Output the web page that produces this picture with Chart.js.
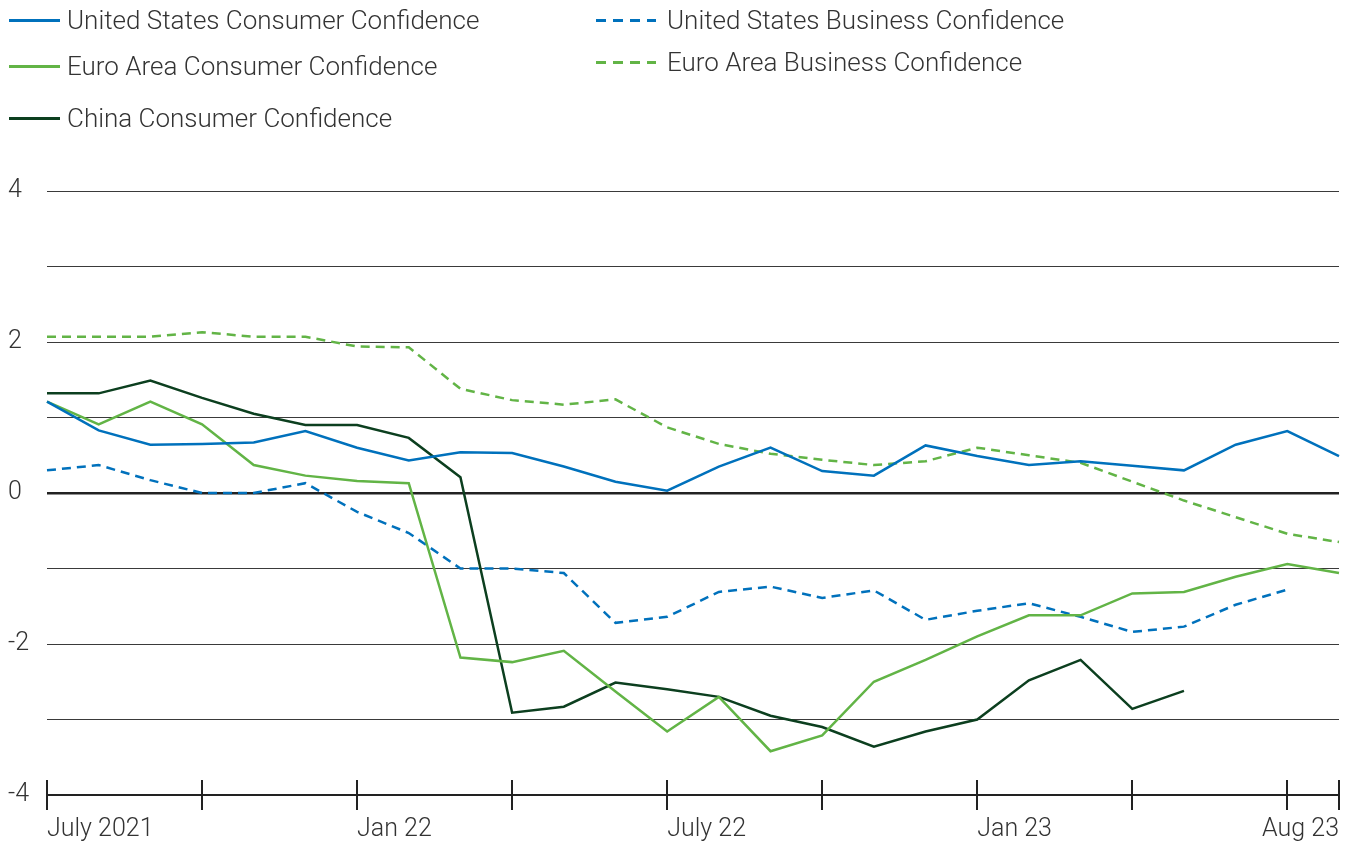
<!DOCTYPE html>
<html>
<head>
<meta charset="utf-8">
<script src="https://cdn.jsdelivr.net/npm/chart.js@4.4.1/dist/chart.umd.min.js"></script>
<style>
  html, body { margin: 0; padding: 0; background: #fff; }
  #wrap { position: relative; width: 1348px; height: 842px; }
  canvas { position: absolute; left: 0; top: 0; }
  .legend-item {
    position: absolute;
    display: flex;
    align-items: center;
    font-family: Roboto, "Noto Sans", sans-serif;
    font-weight: 300;
    font-size: 26px;
    color: #333;
    white-space: nowrap;
    height: 30px;
  }
  .legend-item .swatch { width: 51px; height: 0; margin-right: 7px; }
  .legend-item .swatch.dash { width: 60px; margin-right: 11px; }
</style>
</head>
<body>
<div id="wrap">
  <canvas id="chart" width="1348" height="842"></canvas>
  <div id="legend"></div>
</div>
<script>
// months Jul 2021 .. Aug 2023
var months = ['Jul 21','Aug 21','Sep 21','Oct 21','Nov 21','Dec 21','Jan 22','Feb 22','Mar 22','Apr 22','May 22','Jun 22',
  'Jul 22','Aug 22','Sep 22','Oct 22','Nov 22','Dec 22','Jan 23','Feb 23','Mar 23','Apr 23','May 23','Jun 23','Jul 23','Aug 23'];

var usConsumer = [1.21, 0.83, 0.64, 0.65, 0.67, 0.82, 0.60, 0.43, 0.54, 0.53, 0.35, 0.15,
  0.03, 0.35, 0.60, 0.29, 0.23, 0.63, 0.49, 0.37, 0.42, 0.36, 0.30, 0.64, 0.82, 0.49];
var euroConsumer = [1.21, 0.91, 1.21, 0.91, 0.37, 0.23, 0.16, 0.13, -2.18, -2.24, -2.09, -2.63,
  -3.16, -2.70, -3.42, -3.21, -2.50, -2.21, -1.90, -1.62, -1.62, -1.33, -1.31, -1.11, -0.94, -1.06];
var chinaConsumer = [1.32, 1.32, 1.49, 1.26, 1.05, 0.90, 0.90, 0.73, 0.21, -2.91, -2.83, -2.51,
  -2.60, -2.70, -2.95, -3.10, -3.36, -3.16, -3.00, -2.48, -2.21, -2.86, -2.62, null, null, null];
var usBusiness = [0.30, 0.37, 0.17, 0.00, 0.00, 0.13, -0.25, -0.53, -1.00, -1.00, -1.06, -1.72,
  -1.64, -1.31, -1.24, -1.39, -1.29, -1.68, -1.56, -1.46, -1.64, -1.84, -1.77, -1.48, -1.28, null];
var euroBusiness = [2.07, 2.07, 2.07, 2.13, 2.07, 2.07, 1.94, 1.93, 1.38, 1.23, 1.17, 1.24,
  0.87, 0.65, 0.52, 0.44, 0.37, 0.42, 0.60, 0.50, 0.40, 0.15, -0.10, -0.32, -0.54, -0.65];

var tickMarkIdx = [0, 3, 6, 9, 12, 15, 18, 21, 24, 25];
var tickLabelIdx = [0, 6, 12, 18, 25];
var tickLabels = ['July 2021', 'Jan 22', 'July 22', 'Jan 23', 'Aug 23'];

var BLUE = '#0071bc', GREEN = '#62b446', DARK = '#0c3f1f';
var FONT = 'Roboto, "Noto Sans", sans-serif';

var series = [
  { label: 'United States Consumer Confidence', data: usConsumer, color: BLUE, dash: false },
  { label: 'Euro Area Consumer Confidence', data: euroConsumer, color: GREEN, dash: false },
  { label: 'China Consumer Confidence', data: chinaConsumer, color: DARK, dash: false },
  { label: 'United States Business Confidence', data: usBusiness, color: BLUE, dash: true },
  { label: 'Euro Area Business Confidence', data: euroBusiness, color: GREEN, dash: true }
];

// html legend, two columns
var legendPos = [[9, 5], [9, 51], [9, 103], [596, 5], [596, 47]];
var legend = document.getElementById('legend');
series.forEach(function(s, i) {
  var item = document.createElement('div');
  item.className = 'legend-item';
  item.style.left = legendPos[i][0] + 'px';
  item.style.top = legendPos[i][1] + 'px';
  var sw = document.createElement('span');
  sw.className = 'swatch' + (s.dash ? ' dash' : '');
  sw.style.borderTop = '3px solid ' + s.color;
  if (s.dash) {
    sw.style.borderTop = 'none';
    sw.style.height = '3px';
    sw.style.background = 'repeating-linear-gradient(90deg,' + s.color + ' 0 10px, transparent 10px 17px)';
  }
  item.appendChild(sw);
  item.appendChild(document.createTextNode(s.label));
  legend.appendChild(item);
});

var xAxisPlugin = {
  id: 'xAxisMarks',
  afterDraw: function(chart) {
    var ctx = chart.ctx, x = chart.scales.x, bottom = chart.chartArea.bottom;
    ctx.save();
    ctx.strokeStyle = '#222';
    ctx.lineWidth = 2;
    tickMarkIdx.forEach(function(i) {
      var px = Math.round(x.getPixelForValue(i));
      ctx.beginPath();
      ctx.moveTo(px, bottom - 15);
      ctx.lineTo(px, bottom + 15);
      ctx.stroke();
    });
    ctx.fillStyle = '#333';
    ctx.font = '300 25px ' + FONT;
    ctx.textBaseline = 'middle';
    tickLabelIdx.forEach(function(i, k) {
      var px = x.getPixelForValue(i);
      ctx.textAlign = (k === tickLabelIdx.length - 1) ? 'right' : 'left';
      ctx.fillText(tickLabels[k], px, bottom + 35);
    });
    ctx.restore();
  }
};

new Chart(document.getElementById('chart'), {
  type: 'line',
  data: {
    labels: months,
    datasets: series.map(function(s) {
      return {
        label: s.label,
        data: s.data,
        borderColor: s.color,
        borderWidth: 2.5,
        borderDash: s.dash ? [9, 6] : [],
        pointRadius: 0,
        tension: 0,
        fill: false
      };
    })
  },
  options: {
    responsive: false,
    animation: false,
    devicePixelRatio: 1,
    layout: { padding: { top: 191, left: 8, right: 9, bottom: 0 } },
    plugins: { legend: { display: false }, tooltip: { enabled: false } },
    scales: {
      x: {
        type: 'category',
        offset: false,
        ticks: { display: false },
        grid: { display: false },
        border: { display: true, color: '#222', width: 2 },
        afterFit: function(scale) { scale.height = 47; }
      },
      y: {
        min: -4, max: 4,
        ticks: {
          stepSize: 1,
          crossAlign: 'far',
          color: '#333',
          font: { family: FONT, size: 25, weight: '300' },
          callback: function(v) { return v % 2 === 0 ? String(v) : ''; }
        },
        grid: {
          drawTicks: false,
          color: function(c) { return c.tick && c.tick.value === 0 ? '#222' : '#3a3a3a'; },
          lineWidth: function(c) { return c.tick && c.tick.value === 0 ? 2.5 : 1; }
        },
        border: { display: false },
        afterFit: function(scale) { scale.width = 39; }
      }
    }
  },
  plugins: [xAxisPlugin]
});
</script>
</body>
</html>
